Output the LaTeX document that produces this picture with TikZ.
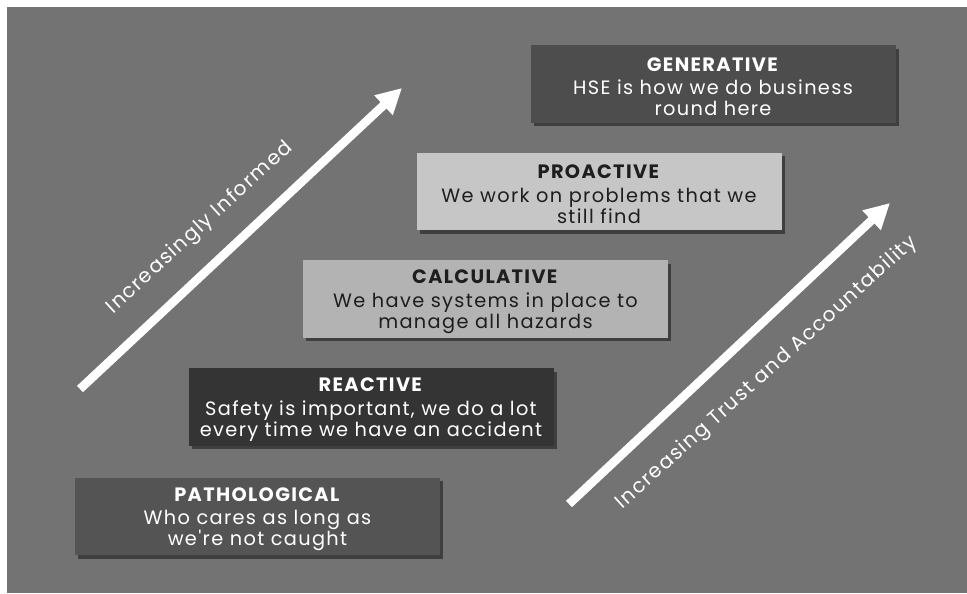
\documentclass[tikz,border=0pt]{standalone}
\usepackage{fontspec}
\setmainfont{Poppins}
\newfontfamily\boxfont{Poppins}[LetterSpace=7]
\newfontfamily\labelfont{Poppins}[LetterSpace=7]
\usetikzlibrary{arrows.meta,shadows}
\definecolor{bggray}{HTML}{737373}
\definecolor{genfill}{HTML}{4D4D4D}
\definecolor{profill}{HTML}{C6C6C6}
\definecolor{calfill}{HTML}{B3B3B3}
\definecolor{reafill}{HTML}{343434}
\definecolor{patfill}{HTML}{545454}
\definecolor{darktext}{HTML}{1E1E1E}
\newcommand{\stagetitle}[1]{\rule{0pt}{14.5pt}\textbf{#1}\\[1.5pt]}
\begin{document}
\begin{tikzpicture}[x=0.75pt,y=-0.75pt,
  stage/.style={rectangle, minimum width=273.75pt, minimum height=58pt, inner sep=0pt,
    align=center, font=\boxfont\fontsize{14.5}{16}\selectfont,
    drop shadow={shadow xshift=2.5pt, shadow yshift=-2.5pt, fill=black, opacity=0.45}},
  darkstage/.style={stage, text=white},
  lightstage/.style={stage, text=darktext},
  bigarrow/.style={draw=white, line width=6.5pt, -{Triangle[length=19pt,width=19pt]}},
  axislabel/.style={text=white, font=\labelfont\fontsize{15}{18}\selectfont, anchor=center}]
\useasboundingbox (0,0) rectangle (967,593);
\fill[white] (0,0) rectangle (967,593);
\fill[bggray] (7,7) rectangle (967,593);

\node[darkstage, fill=genfill] (gen) at (713,84) {\stagetitle{GENERATIVE}HSE is how we do business\\round here};
\node[lightstage, fill=profill] (pro) at (599,191.5) {\stagetitle{PROACTIVE}We work on problems that we\\still find};
\node[lightstage, fill=calfill] (cal) at (485.5,299) {\stagetitle{CALCULATIVE}We have systems in place to\\manage all hazards};
\node[darkstage, fill=reafill] (rea) at (371,407) {\stagetitle{REACTIVE}Safety is important, we do a lot\\every time we have an accident};
\node[darkstage, fill=patfill] (pat) at (257.5,516.5) {\stagetitle{PATHOLOGICAL}Who cares as long as\\we're not caught};

\coordinate (a1s) at (80,389);
\coordinate (a1e) at (402,88);
\coordinate (a2s) at (569,504);
\coordinate (a2e) at (890,203);
\draw[bigarrow] (a1s) -- (a1e);
\draw[bigarrow] (a2s) -- (a2e);

\node[axislabel, rotate=42.5] (inf) at (200,228) {Increasingly Informed};
\node[axislabel, rotate=42] (tru) at (767,373) {Increasing Trust and Accountability};
\end{tikzpicture}
\end{document}
